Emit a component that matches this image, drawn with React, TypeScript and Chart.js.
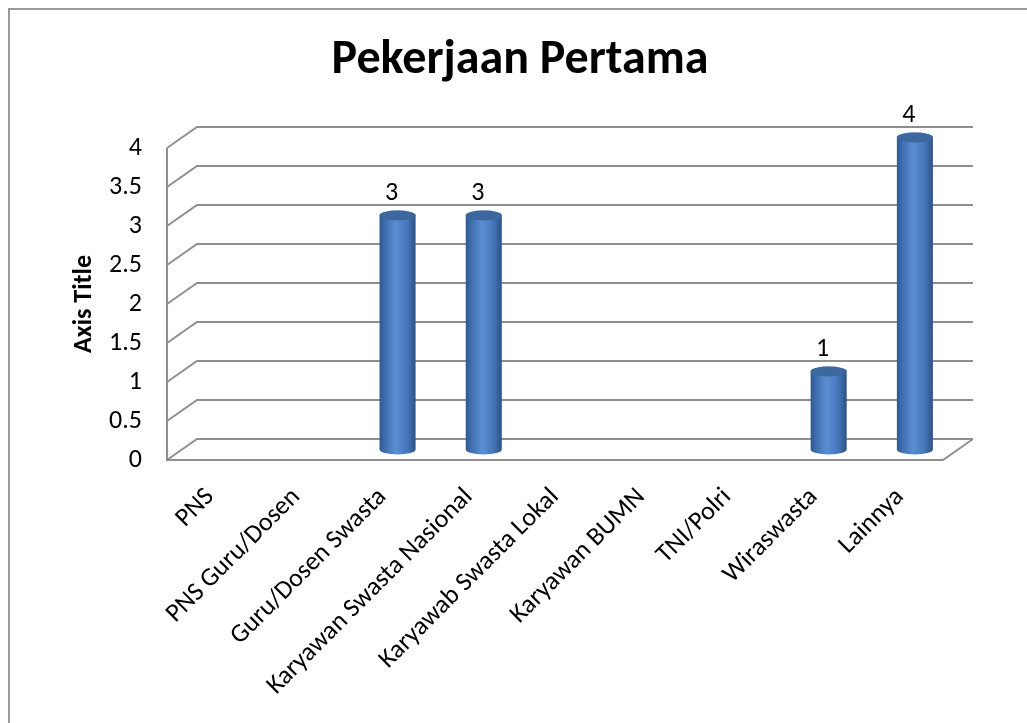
import React, { useEffect, useRef } from "react";
import { Chart, registerables } from "chart.js";

Chart.register(...registerables);

const categories = [
  "PNS",
  "PNS Guru/Dosen",
  "Guru/Dosen Swasta",
  "Karyawan Swasta Nasional",
  "Karyawab Swasta Lokal",
  "Karyawan BUMN",
  "TNI/Polri",
  "Wiraswasta",
  "Lainnya",
];
const values: (number | null)[] = [null, null, 3, 3, null, null, null, 1, 4];
const yMin = 0;
const yMax = 4;
const yStep = 0.5;
const chartTitle = "Pekerjaan Pertama";
const yAxisTitle = "Axis Title";

const FONT = "Carlito, Calibri, Lato, sans-serif";
const DX = 30;
const DY = -21;
const GRID = "#8f8f8f";

const depthPlugin = {
  id: "depth3d",
  beforeDraw(chart: any) {
    const ctx = chart.ctx;
    ctx.save();
    ctx.strokeStyle = "#9a9a9a";
    ctx.lineWidth = 2;
    ctx.beginPath();
    ctx.moveTo(9, chart.height + 2);
    ctx.lineTo(9, 9);
    ctx.lineTo(chart.width + 2, 9);
    ctx.stroke();
    ctx.fillStyle = "#000";
    ctx.font = `bold 48px ${FONT}`;
    ctx.textAlign = "center";
    ctx.textBaseline = "middle";
    ctx.fillText(chartTitle, 520, 61);
    ctx.restore();
  },
  beforeDatasetsDraw(chart: any) {
    const ctx = chart.ctx;
    const y = chart.scales.y;
    const x = chart.scales.x;
    const left = x.left;
    const right = x.right;
    ctx.save();
    ctx.strokeStyle = GRID;
    ctx.lineWidth = 2;
    ctx.lineCap = "butt";
    y.ticks.forEach((t: any) => {
      const py = y.getPixelForValue(t.value);
      ctx.beginPath();
      ctx.moveTo(left, py);
      ctx.lineTo(left + DX, py + DY);
      ctx.lineTo(right + DX, py + DY);
      ctx.stroke();
    });
    const top = y.getPixelForValue(yMax);
    const bottom = y.getPixelForValue(yMin);
    ctx.beginPath();
    ctx.moveTo(left, top);
    ctx.lineTo(left, bottom);
    ctx.lineTo(right, bottom);
    ctx.lineTo(right + DX, bottom + DY);
    ctx.stroke();
    ctx.restore();
  },
  afterDatasetsDraw(chart: any) {
    const ctx = chart.ctx;
    const meta = chart.getDatasetMeta(0);
    meta.data.forEach((el: any, i: number) => {
      const v = values[i];
      if (v === null || v === undefined) return;
      const cx = el.x + DX / 2;
      const top = el.y + DY / 2;
      const base = el.base + DY / 2;
      const rx = el.width / 2;
      const ry = 5;
      ctx.save();
      const g = ctx.createLinearGradient(cx - rx, 0, cx + rx, 0);
      g.addColorStop(0, "#2f5790");
      g.addColorStop(0.15, "#3f6eae");
      g.addColorStop(0.45, "#5a8ed3");
      g.addColorStop(0.75, "#4878bb");
      g.addColorStop(1, "#2c5288");
      ctx.beginPath();
      ctx.moveTo(cx - rx, top);
      ctx.lineTo(cx - rx, base);
      ctx.ellipse(cx, base, rx, ry, 0, Math.PI, 0, true);
      ctx.lineTo(cx + rx, top);
      ctx.ellipse(cx, top, rx, ry, 0, 0, Math.PI, true);
      ctx.closePath();
      ctx.fillStyle = g;
      ctx.fill();
      ctx.beginPath();
      ctx.ellipse(cx, top, rx, ry, 0, 0, Math.PI * 2);
      ctx.fillStyle = "#3d679f";
      ctx.fill();
      ctx.fillStyle = "#000";
      ctx.font = `26px ${FONT}`;
      ctx.textAlign = "center";
      ctx.textBaseline = "middle";
      ctx.fillText(String(v), cx - 6, top - 22);
      ctx.restore();
    });
  },
};

export default function App() {
  const ref = useRef<HTMLCanvasElement>(null);
  useEffect(() => {
    if (!ref.current) return;
    const chart = new Chart(ref.current, {
      type: "bar",
      data: {
        labels: categories,
        datasets: [
          {
            data: values,
            backgroundColor: "rgba(0,0,0,0)",
            borderWidth: 0,
            barPercentage: 0.418,
            categoryPercentage: 1,
          },
        ],
      },
      options: {
        animation: false,
        responsive: false,
        maintainAspectRatio: false,
        devicePixelRatio: 1,
        layout: { padding: { left: 0, right: 84, top: 148, bottom: 0 } },
        plugins: {
          legend: { display: false },
          tooltip: { enabled: false },
          title: { display: false },
        },
        scales: {
          x: {
            type: "category",
            grid: { display: false, drawTicks: false },
            border: { display: false },
            ticks: {
              color: "#000",
              font: { family: FONT, size: 26 },
              maxRotation: 45,
              minRotation: 45,
              autoSkip: false,
              padding: 22,
            },
            afterFit: (s: any) => {
              s.height = 263;
            },
          },
          y: {
            min: yMin,
            max: yMax,
            grid: { display: false, drawTicks: false },
            border: { display: false },
            ticks: {
              stepSize: yStep,
              color: "#000",
              font: { family: FONT, size: 26 },
              padding: 25,
              callback: (v: any) => String(v),
            },
            title: {
              display: true,
              text: yAxisTitle,
              color: "#000",
              font: { family: FONT, size: 26, weight: "bold", lineHeight: 1.2 },
              padding: { top: 69, bottom: 0 },
            },
            afterFit: (s: any) => {
              s.width = 167;
            },
          },
        },
      },
      plugins: [depthPlugin],
    });
    return () => chart.destroy();
  }, []);
  return (
    <div style={{ position: "absolute", left: 0, top: 0, width: 1027, height: 723 }}>
      <canvas ref={ref} width={1027} height={723} style={{ width: 1027, height: 723, display: "block" }} />
    </div>
  );
}
